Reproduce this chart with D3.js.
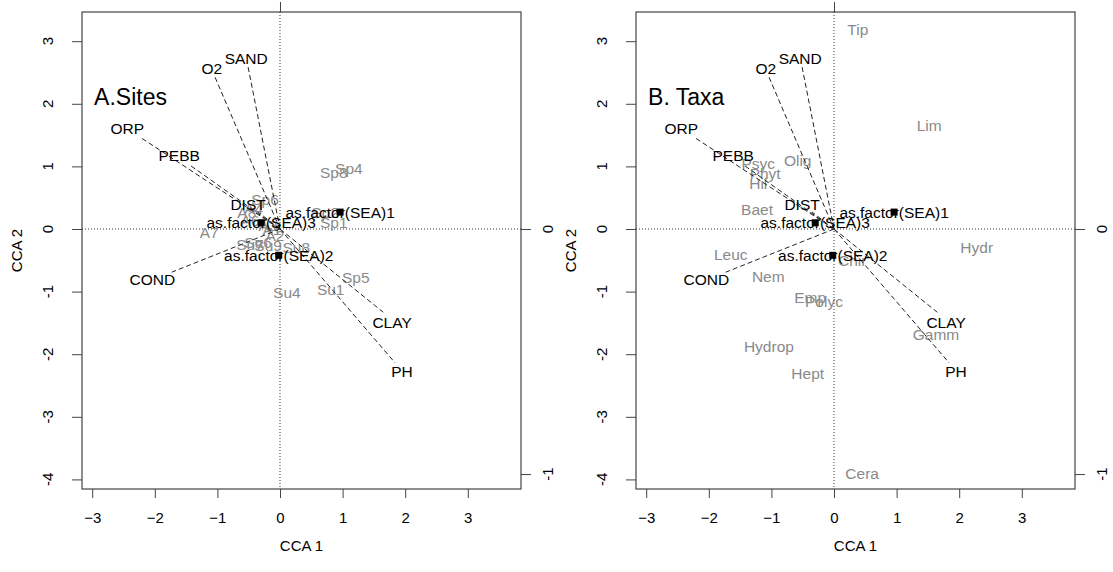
<!DOCTYPE html>
<html>
<head>
<meta charset="utf-8">
<script src="https://cdn.jsdelivr.net/npm/d3@7"></script>
<style>
  body { margin: 0; background: #fff; }
  text { font-family: "Liberation Sans", Arial, sans-serif; }
</style>
</head>
<body>
<div id="chart"></div>
<script>
// axis ticks
const xTicks = [-3, -2, -1, 0, 1, 2, 3];
const yTicks = [-4, -3, -2, -1, 0, 1, 2, 3];
const arrowTicks = [-1, 0, 1];   // biplot-arrow scale on the right / top axes

// environmental arrows (tips) and their label positions, CCA units
const envNames  = ["O2", "SAND", "ORP", "PEBB", "DIST", "COND", "CLAY", "PH"];
const envX      = [-1.04, -0.51, -2.24, -1.44, -0.35, -1.73, 1.65, 1.84];
const envY      = [2.43, 2.59, 1.47, 1.02, 0.27, -0.69, -1.33, -2.14];
const envLabX   = [-1.09, -0.54, -2.44, -1.61, -0.51, -2.04, 1.79, 1.95];
const envLabY   = [2.57, 2.72, 1.61, 1.17, 0.40, -0.81, -1.50, -2.28];

// factor centroids
const seaNames = ["as.factor(SEA)1", "as.factor(SEA)2", "as.factor(SEA)3"];
const seaX     = [0.96, -0.02, -0.30];
const seaY     = [0.27, -0.42, 0.10];

// site scores (panel A)
const siteNames = ["Sp4", "Sp8", "Sp1", "Sp2", "Sp5", "Su1", "Su4", "A7", "Sp6",
                   "A8", "A4", "A6", "A3", "A1", "A2", "Su7", "Su6", "Su9", "Su8"];
const siteX = [1.10, 0.86, 0.86, 0.72, 1.21, 0.81, 0.11, -1.13, -0.24,
               -0.53, -0.42, -0.48, -0.19, -0.13, -0.08, -0.48, -0.35, -0.19, 0.26];
const siteY = [0.97, 0.91, 0.11, 0.27, -0.78, -0.96, -1.02, -0.05, 0.47,
               0.26, 0.33, 0.14, 0.05, 0.00, -0.10, -0.24, -0.21, -0.27, -0.30];

// species scores (panel B)
const taxaNames = ["Tip", "Lim", "Olig", "Psyc", "Phyt", "Hil", "Baet", "Hydr", "Leuc",
                   "Nem", "Chir", "Emp", "Polyc", "Gamm", "Hydrop", "Hept", "Cera"];
const taxaX = [0.38, 1.52, -0.58, -1.21, -1.10, -1.21, -1.23, 2.28, -1.65,
               -1.05, 0.29, -0.38, -0.16, 1.63, -1.04, -0.42, 0.45];
const taxaY = [3.19, 1.65, 1.10, 1.04, 0.88, 0.73, 0.32, -0.29, -0.40,
               -0.75, -0.50, -1.09, -1.15, -1.69, -1.87, -2.30, -3.90];

const width = 1113, height = 572;
const fs = 15.5;      // labels inside the plot
const tfs = 15;       // tick labels and axis titles
const axisCol = "#444";

const svg = d3.select("#chart").append("svg")
    .attr("width", width)
    .attr("height", height);

function drawPanel(left, title, names, px, py) {
    const box = {left: left, right: left + 439, top: 12, bottom: 489};
    const mul = 3.914;   // plot units per arrow unit

    const x = d3.scaleLinear().domain([-3.163, 3.85]).range([box.left, box.right]);
    const y = d3.scaleLinear().domain([-4.153, 3.466]).range([box.bottom, box.top]);
    const xa = d3.scaleLinear().domain(x.domain().map(v => v / mul)).range(x.range());
    const ya = d3.scaleLinear().domain(y.domain().map(v => v / mul)).range(y.range());

    const g = svg.append("g");

    // dotted zero lines
    g.append("line")
        .attr("x1", x(0)).attr("x2", x(0))
        .attr("y1", box.top).attr("y2", box.bottom)
        .attr("stroke", "#333").attr("stroke-dasharray", "1,2");
    g.append("line")
        .attr("x1", box.left).attr("x2", box.right)
        .attr("y1", y(0)).attr("y2", y(0))
        .attr("stroke", "#333").attr("stroke-dasharray", "1,2");

    // grey site / species labels
    g.append("g").selectAll("text")
        .data(names)
        .join("text")
        .attr("x", (d, i) => x(px[i]))
        .attr("y", (d, i) => y(py[i]))
        .attr("dy", "0.36em")
        .attr("text-anchor", "middle")
        .attr("font-size", fs)
        .attr("fill", "#8a8a8a")
        .text(d => d);

    // dashed biplot arrows
    g.append("g").selectAll("line")
        .data(envNames)
        .join("line")
        .attr("x1", x(0)).attr("y1", y(0))
        .attr("x2", (d, i) => x(envX[i]))
        .attr("y2", (d, i) => y(envY[i]))
        .attr("stroke", "#222")
        .attr("stroke-width", 1)
        .attr("stroke-dasharray", "5,3");

    g.append("g").selectAll("text")
        .data(envNames)
        .join("text")
        .attr("x", (d, i) => x(envLabX[i]))
        .attr("y", (d, i) => y(envLabY[i]))
        .attr("dy", "0.36em")
        .attr("text-anchor", "middle")
        .attr("font-size", fs)
        .attr("fill", "#000")
        .text(d => d);

    // factor centroids
    g.append("g").selectAll("rect")
        .data(seaNames)
        .join("rect")
        .attr("x", (d, i) => x(seaX[i]) - 3.5)
        .attr("y", (d, i) => y(seaY[i]) - 3.5)
        .attr("width", 7).attr("height", 7)
        .attr("fill", "#000");

    g.append("g").selectAll("text")
        .data(seaNames)
        .join("text")
        .attr("x", (d, i) => x(seaX[i]))
        .attr("y", (d, i) => y(seaY[i]))
        .attr("dy", "0.36em")
        .attr("text-anchor", "middle")
        .attr("font-size", fs)
        .attr("fill", "#000")
        .text(d => d);

    // panel title
    g.append("text")
        .attr("x", x(-2.97))
        .attr("y", y(2.12))
        .attr("dy", "0.36em")
        .attr("font-size", 23)
        .text(title);

    // bottom axis
    const bottom = g.append("g")
        .attr("transform", `translate(0,${box.bottom})`)
        .call(d3.axisBottom(x).tickValues(xTicks).tickSize(9).tickPadding(14).tickFormat(d3.format("d")));
    bottom.select(".domain").remove();
    bottom.selectAll("line").attr("stroke", axisCol);
    bottom.selectAll("text").attr("font-size", tfs).attr("font-family", "Liberation Sans, Arial, sans-serif");

    // left axis, labels parallel to axis
    const leftAx = g.append("g")
        .attr("transform", `translate(${box.left},0)`)
        .call(d3.axisLeft(y).tickValues(yTicks).tickSize(10).tickFormat(""));
    leftAx.select(".domain").remove();
    leftAx.selectAll("line").attr("stroke", axisCol);
    g.append("g").selectAll("text")
        .data(yTicks)
        .join("text")
        .attr("transform", d => `translate(${box.left - 34},${y(d)}) rotate(-90)`)
        .attr("dy", "0.36em")
        .attr("text-anchor", "middle")
        .attr("font-size", tfs)
        .text(d => d);

    // right axis (arrow scale)
    const rTicks = arrowTicks.filter(t => ya(t) >= box.top && ya(t) <= box.bottom);
    const rightAx = g.append("g")
        .attr("transform", `translate(${box.right},0)`)
        .call(d3.axisRight(ya).tickValues(rTicks).tickSize(10).tickFormat(""));
    rightAx.select(".domain").remove();
    rightAx.selectAll("line").attr("stroke", axisCol);
    g.append("g").selectAll("text")
        .data(rTicks)
        .join("text")
        .attr("transform", d => `translate(${box.right + 27},${ya(d)}) rotate(-90)`)
        .attr("dy", "0.36em")
        .attr("text-anchor", "middle")
        .attr("font-size", tfs)
        .text(d => d);

    // top axis (arrow scale), labels fall off the page
    const tTicks = arrowTicks.filter(t => xa(t) >= box.left && xa(t) <= box.right);
    const topAx = g.append("g")
        .attr("transform", `translate(0,${box.top})`)
        .call(d3.axisTop(xa).tickValues(tTicks).tickSize(10).tickFormat(""));
    topAx.select(".domain").remove();
    topAx.selectAll("line").attr("stroke", axisCol);

    // box
    g.append("rect")
        .attr("x", box.left).attr("y", box.top)
        .attr("width", box.right - box.left)
        .attr("height", box.bottom - box.top)
        .attr("fill", "none")
        .attr("stroke", axisCol)
        .attr("stroke-width", 1.2);

    // axis titles
    g.append("text")
        .attr("x", (box.left + box.right) / 2)
        .attr("y", 546)
        .attr("dy", "0.36em")
        .attr("text-anchor", "middle")
        .attr("font-size", tfs)
        .text("CCA 1");

    g.append("text")
        .attr("transform", `translate(${box.left - 65},${(box.top + box.bottom) / 2}) rotate(-90)`)
        .attr("dy", "0.36em")
        .attr("text-anchor", "middle")
        .attr("font-size", tfs)
        .text("CCA 2");
}

drawPanel(82, "A.Sites", siteNames, siteX, siteY);
drawPanel(636, "B. Taxa", taxaNames, taxaX, taxaY);
</script>
</body>
</html>
